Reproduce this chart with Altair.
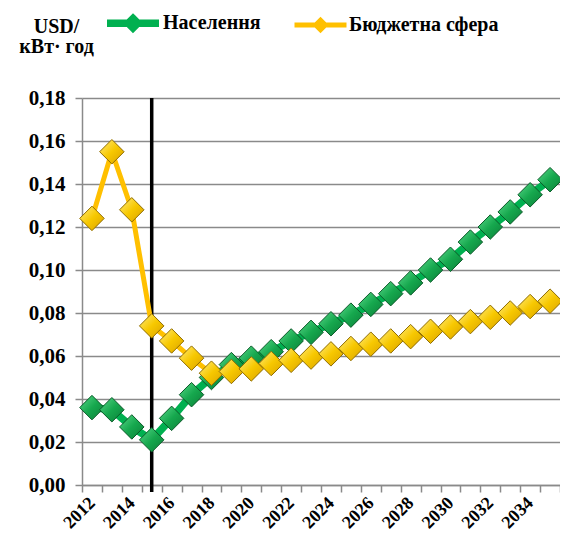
import altair as alt
import pandas as pd

years = list(range(2012, 2036))
naselennia = [0.036, 0.035, 0.027, 0.021, 0.031, 0.042, 0.050, 0.056, 0.059, 0.062,
              0.067, 0.071, 0.075, 0.079, 0.084, 0.089, 0.094, 0.100, 0.105, 0.113,
              0.120, 0.127, 0.135, 0.142]
biudzhet = [0.124, 0.155, 0.128, 0.074, 0.067, 0.059, 0.052, 0.0528, 0.054, 0.0565,
            0.058, 0.0595, 0.061, 0.0635, 0.0655, 0.067, 0.069, 0.0715, 0.0735, 0.076,
            0.078, 0.080, 0.083, 0.0855]
series_names = ["Населення", "Бюджетна сфера"]
line_colors = ["#00b050", "#ffc000"]
line_widths = [7.5, 5]
y_ticks = [0.0, 0.02, 0.04, 0.06, 0.08, 0.10, 0.12, 0.14, 0.16, 0.18]
x_label_years = list(range(2012, 2036, 2))
x_tick_bounds = [y - 0.5 for y in range(2012, 2037)]
marker_year = 2015

df = pd.DataFrame({
    "year": years * 2,
    "value": naselennia + biudzhet,
    "series": [series_names[0]] * len(years) + [series_names[1]] * len(years),
})
df["width_series"] = df["series"]

FONT = "Liberation Serif, Times New Roman, serif"
GRID = "#8a8a8a"

xscale = alt.Scale(domain=[2011.5, 2035.5], nice=False, zero=False)
yscale = alt.Scale(domain=[0, 0.18], nice=False)

x_axis_ticks = alt.Axis(orient="bottom", values=x_tick_bounds, labels=False, tickSize=7,
                        tickColor=GRID, tickWidth=1.5, domainColor=GRID, domainWidth=1.5,
                        grid=False, title=None)
x_axis_labels = alt.Axis(orient="bottom", values=x_label_years, ticks=False, tickSize=0,
                         domain=False, grid=False, title=None, labelAngle=-45,
                         labelAlign="right", labelBaseline="middle", labelPadding=15,
                         labelFont=FONT, labelFontSize=18, labelFontWeight="bold",
                         labelColor="black", labelFlush=False, labelOverlap=False, format="d")
y_axis = alt.Axis(orient="left", values=y_ticks,
                  labelExpr="replace(format(datum.value, '.2f'), '.', ',')",
                  grid=True, gridColor=GRID, gridWidth=1.5, tickSize=7, tickColor=GRID,
                  tickWidth=1.5, domainColor=GRID, domainWidth=1.5, labelPadding=10,
                  labelFont=FONT, labelFontSize=21, labelFontWeight="bold", labelColor="black",
                  title=["USD/", "кВт· год"], titleAngle=0, titleAlign="center",
                  titleBaseline="alphabetic", titleX=-26, titleY=-66, titleFont=FONT,
                  titleFontSize=20, titleFontWeight="bold", titleColor="black",
                  titleLineHeight=20, titleLimit=300)

Y = alt.Y("value:Q", scale=yscale, axis=y_axis)

base = alt.Chart(df)

rule = alt.Chart(pd.DataFrame({"year": [marker_year]})).mark_rule(color="black", strokeWidth=3.5).encode(
    x=alt.X("year:Q", scale=xscale, axis=None),
    y=alt.value(0),
    y2=alt.value(394),
)

# legend symbol: a line with a small diamond, in unit coordinates
legend_path = "M-1,0L1,0M0,-0.18L0.18,0L0,0.18L-0.18,0Z"

lines = base.mark_line(strokeJoin="round", strokeCap="round").encode(
    x=alt.X("year:Q", scale=xscale, axis=x_axis_ticks),
    y=Y,
    color=alt.Color("series:N", scale=alt.Scale(domain=series_names, range=line_colors),
                    legend=alt.Legend(title=None, orient="none", legendX=21, legendY=-105,
                                      direction="horizontal", symbolType=legend_path,
                                      symbolSize=2704, symbolStrokeWidth=5, symbolOpacity=1,
                                      labelFont=FONT, labelFontSize=20, labelFontWeight="bold",
                                      labelColor="black", labelOffset=0, columnPadding=23,
                                      padding=0, labelLimit=400)),
    strokeWidth=alt.StrokeWidth("width_series:N",
                                scale=alt.Scale(domain=series_names, range=line_widths),
                                legend=None),
)


def grad_pts(name, light, mid, dark, edge, axis):
    return base.transform_filter(alt.datum.series == name).mark_point(
        shape="diamond", filled=True, size=600, opacity=1, stroke=edge, strokeWidth=1,
        fill=alt.Gradient(gradient="linear", x1=0, y1=0, x2=1, y2=1,
                          stops=[alt.GradientStop(color=light, offset=0),
                                 alt.GradientStop(color=mid, offset=0.5),
                                 alt.GradientStop(color=dark, offset=1)]),
    ).encode(
        x=alt.X("year:Q", scale=xscale, axis=axis),
        y=Y,
    )


green_pts = grad_pts(series_names[0], "#5ad88a", "#16a84e", "#0b7f38", "#0a5a28", x_axis_labels)
yellow_pts = grad_pts(series_names[1], "#ffec80", "#f7c800", "#d9a200", "#8f6c00", None)

chart = alt.layer(rule, lines, green_pts, yellow_pts).resolve_axis(
    x="independent"
).properties(
    width=478, height=387,
    autosize=alt.AutoSizeParams(type="none"),
    padding={"left": 74, "top": 90, "right": 0, "bottom": 50},
    background="white",
).configure_view(stroke=None)

chart.save("out.html", embed_options={"renderer": "svg", "actions": False})
